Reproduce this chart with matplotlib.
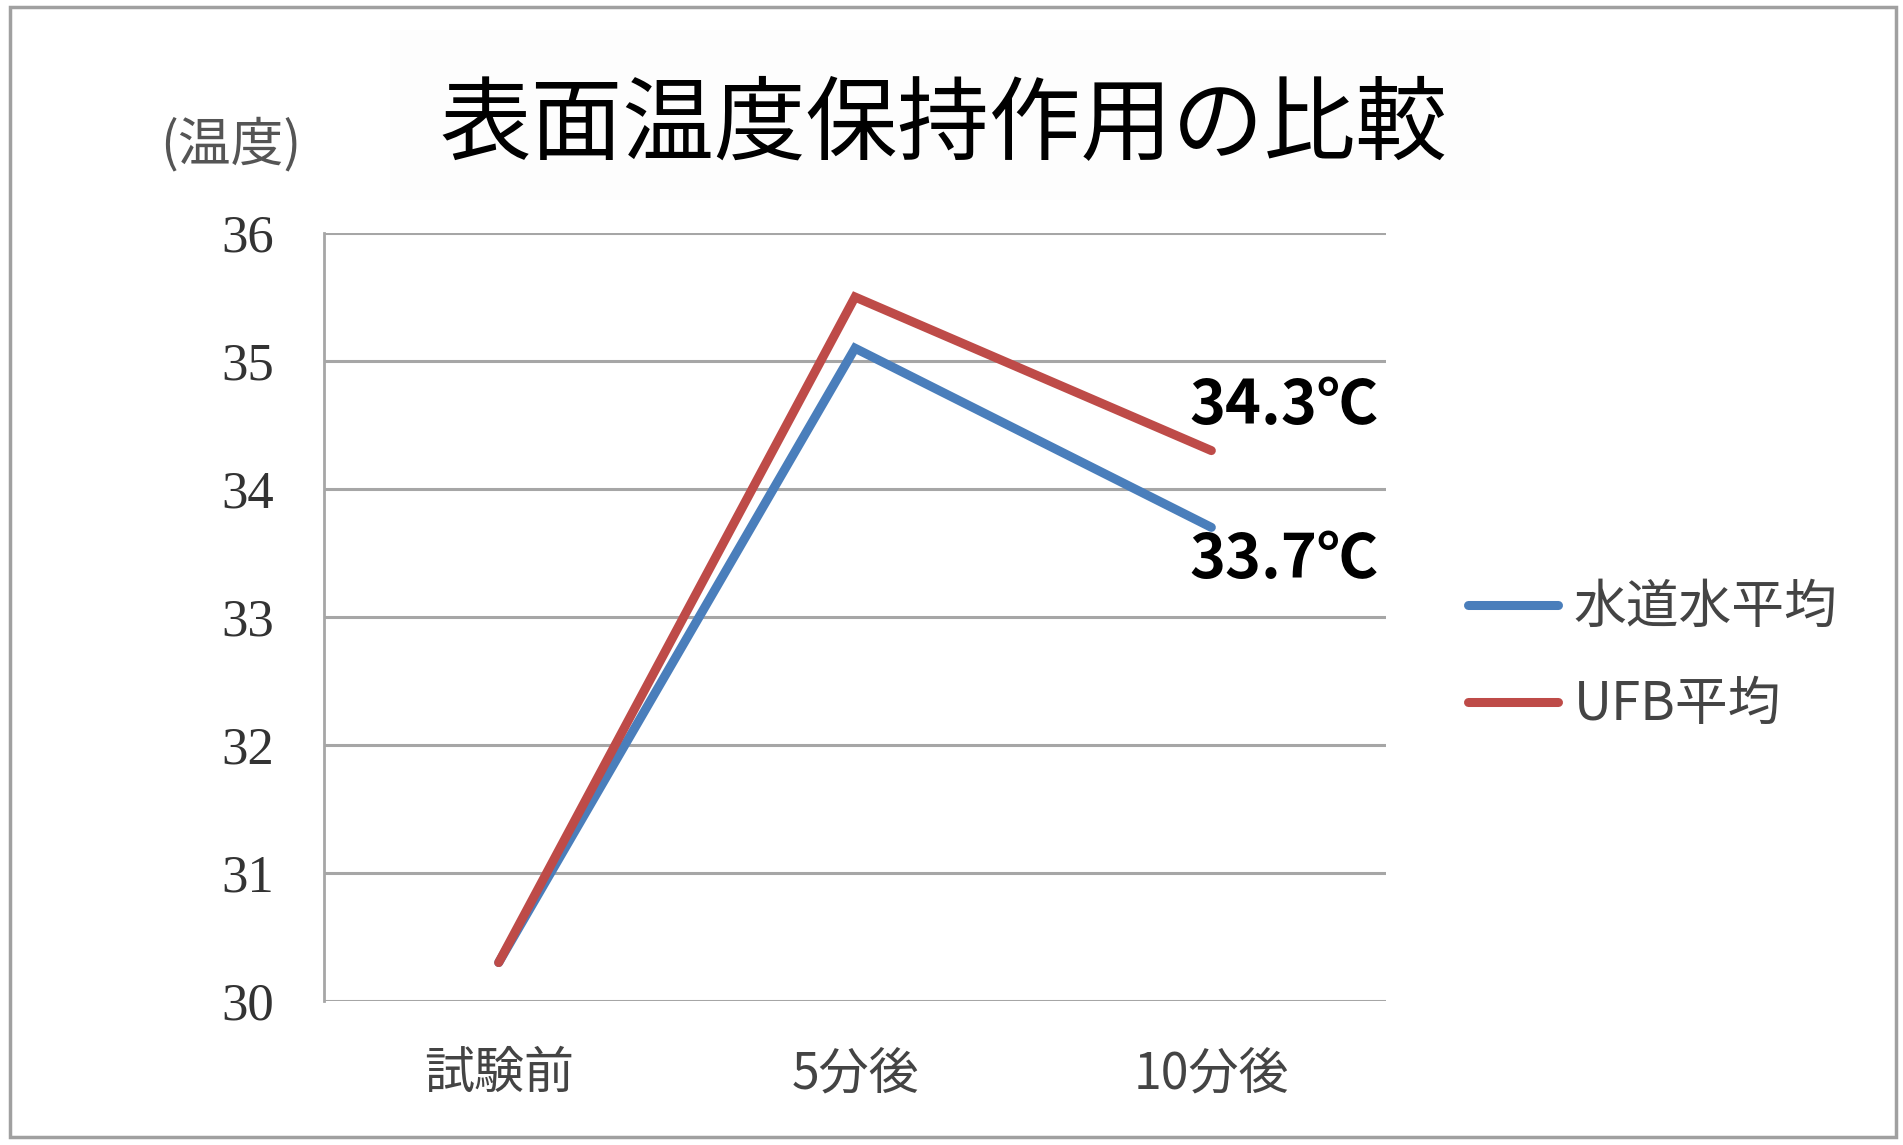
import matplotlib
matplotlib.use("Agg")
import matplotlib.pyplot as plt
from matplotlib.patches import Rectangle

# data
categories = ["試験前", "5分後", "10分後"]
tap_water = [30.3, 35.1, 33.7]
ufb = [30.3, 35.5, 34.3]
series_names = ["水道水平均", "UFB平均"]
yticks = [30, 31, 32, 33, 34, 35, 36]
end_labels = ["33.7℃", "34.3℃"]

BLUE = "#4A7EBB"
RED = "#BE4B48"
GRID = "#A6A6A6"
CJK = "Noto Sans CJK JP"

plt.rcParams["font.family"] = [CJK, "DejaVu Sans"]

fig = plt.figure(figsize=(19.03, 11.45), dpi=100)

# outer frame of the picture
fig.patches.append(Rectangle((10 / 1903, 8 / 1145), 1886 / 1903, 1130 / 1145,
                             transform=fig.transFigure, fill=False,
                             edgecolor="#A0A0A0", linewidth=2.5))
# faint box behind the title
fig.patches.append(Rectangle((390 / 1903, 945 / 1145), 1100 / 1903, 170 / 1145,
                             transform=fig.transFigure, facecolor="#FDFDFD",
                             edgecolor="none", zorder=0))

ax = fig.add_axes([0.1703, 0.1258, 0.558, 0.6707])
x = range(len(categories))

ax.plot(x, tap_water, color=BLUE, linewidth=6.5, solid_capstyle="round",
        solid_joinstyle="miter", label=series_names[0], zorder=3)
ax.plot(x, ufb, color=RED, linewidth=6.5, solid_capstyle="round",
        solid_joinstyle="miter", label=series_names[1], zorder=3)

ax.set_ylim(30, 36)
ax.set_xlim(-0.49, 2.49)
ax.set_yticks(yticks)
ax.set_yticklabels([str(v) for v in yticks], family="Liberation Serif",
                   fontsize=38, color="#333333")
ax.set_xticks(list(x))
ax.set_xticklabels(categories, fontsize=36, color="#444444")
ax.tick_params(length=0)
ax.tick_params(axis="y", pad=36)
ax.tick_params(axis="x", pad=34)

ax.grid(axis="y", color=GRID, linewidth=2.2)
ax.set_axisbelow(True)
for s in ["top", "right", "bottom"]:
    ax.spines[s].set_visible(False)
ax.spines["left"].set_color(GRID)
ax.spines["left"].set_linewidth(2)

# end value labels
ax.annotate(end_labels[1], xy=(2, ufb[2]), xytext=(52, 32), textcoords="offset points",
            ha="center", va="center", fontsize=44, fontweight="bold",
            family=["Liberation Sans Narrow", CJK])
ax.annotate(end_labels[0], xy=(2, tap_water[2]), xytext=(52, -24), textcoords="offset points",
            ha="center", va="center", fontsize=44, fontweight="bold",
            family=["Liberation Sans Narrow", CJK])

leg = ax.legend(loc="center left", bbox_to_anchor=(1468 / 1903, 0.427),
                bbox_transform=fig.transFigure, frameon=False, fontsize=38,
                handlelength=1.7, handletextpad=0.3, borderpad=0,
                borderaxespad=0, labelspacing=0.8)
for t in leg.get_texts():
    t.set_color("#444444")

fig.text(0.496, 0.889, "表面温度保持作用の比較", ha="center", va="center",
         fontsize=66, color="black")
fig.text(0.121, 0.873, "(温度)", ha="center", va="center",
         fontsize=38, color="#555555")

fig.savefig("out.png", dpi=100)
